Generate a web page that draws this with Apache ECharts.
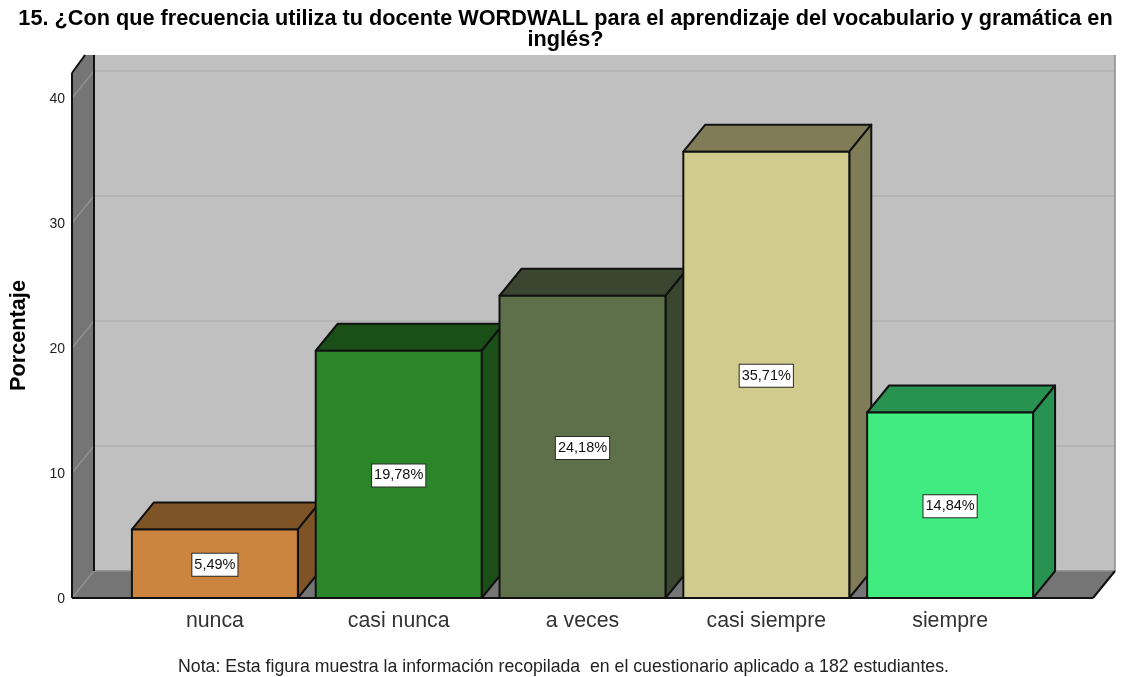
<!DOCTYPE html>
<html>
<head>
<meta charset="utf-8">
<style>html,body{margin:0;padding:0;background:#fff}#c{width:1122px;height:677px}</style>
<script src="https://cdn.jsdelivr.net/npm/echarts@6/dist/echarts.min.js"></script>
</head>
<body>
<div id="c"></div>
<script>
const categories = ['nunca', 'casi nunca', 'a veces', 'casi siempre', 'siempre'];
const values = [5.49, 19.78, 24.18, 35.71, 14.84];
const valueLabels = ['5,49%', '19,78%', '24,18%', '35,71%', '14,84%'];
const yTicks = [0, 10, 20, 30, 40];
const faceColors = ['#CC853E', '#2A8628', '#5E7049', '#D1CB8E', '#40EC7F'];
const shadeColors = ['#7E5427', '#1A5018', '#3B4630', '#807C58', '#289250'];
const titleText = '15. ¿Con que frecuencia utiliza tu docente WORDWALL para el aprendizaje del vocabulario y gramática en\ninglés?';
const noteText = 'Nota: Esta figura muestra la información recopilada  en el cuestionario aplicado a 182 estudiantes.';
const yName = 'Porcentaje';

const DX = 22, DY = -27, PAD = 51, FONT = '"Liberation Sans", Arial, sans-serif';
const EDGE = '#111';

function poly(points, fill, stroke, lw) {
  return { type: 'polygon', shape: { points }, style: { fill, stroke: stroke || 'none', lineWidth: lw || 0, lineJoin: 'round' } };
}
function line(x1, y1, x2, y2, stroke, lw) {
  return { type: 'line', shape: { x1, y1, x2, y2 }, style: { stroke, lineWidth: lw, fill: 'none' } };
}

function renderRoom(params, api) {
  const cs = params.coordSys;
  const xL = cs.x - PAD, xR = cs.x + cs.width + PAD;
  const yB = cs.y + cs.height, yT = cs.y;
  const topClip = yT - 18;
  const backB = yB + DY;
  const clipDx = 13;
  const kids = [
    poly([[xL + DX, topClip], [xR + DX, topClip], [xR + DX, backB], [xL + DX, backB]], '#C0C0C0'),
    poly([[xL, yT], [xL + clipDx, topClip], [xL + DX, topClip], [xL + DX, backB], [xL, yB]], '#757575'),
    poly([[xL, yB], [xL + DX, backB], [xR + DX, backB], [xR, yB]], '#757575')
  ];
  yTicks.forEach(v => {
    const y = api.coord([0, v])[1];
    if (v > 0) kids.push(line(xL + DX, y + DY, xR + DX, y + DY, '#B0B0B0', 1.5));
    kids.push(line(xL, y, xL + DX, y + DY, '#939393', 1.2));
  });
  kids.push(line(xL + DX, backB, xR + DX, backB, '#8C8C8C', 1.5));
  kids.push(line(xR + DX, topClip, xR + DX, backB, '#8C8C8C', 1.5));
  kids.push(line(xL, yT, xL, yB, EDGE, 2));
  kids.push(line(xL, yT, xL + clipDx, topClip, EDGE, 2));
  kids.push(line(xL + DX, topClip, xL + DX, backB, EDGE, 2));
  kids.push(line(xL, yB, xR, yB, EDGE, 2));
  kids.push(line(xR, yB, xR + DX, backB, EDGE, 2));
  return { type: 'group', children: kids };
}

function renderBar(params, api) {
  const i = api.value(0), v = api.value(1);
  const c = api.coord([i, v]), base = api.coord([i, 0]);
  const w = api.size([1, 0])[0] * 0.903;
  const xa = c[0] - w / 2, xb = c[0] + w / 2, yt = c[1], yb = base[1];
  const midY = (yt + yb) / 2 + 1;
  return {
    type: 'group',
    children: [
      poly([[xa, yt], [xa + DX, yt + DY], [xb + DX, yt + DY], [xb, yt]], shadeColors[i], EDGE, 2),
      poly([[xb, yt], [xb + DX, yt + DY], [xb + DX, yb + DY], [xb, yb]], shadeColors[i], EDGE, 2),
      poly([[xa, yt], [xb, yt], [xb, yb], [xa, yb]], faceColors[i], EDGE, 2),
      {
        type: 'text', x: c[0], y: midY,
        style: {
          text: valueLabels[i], x: 0, y: 0, align: 'center', verticalAlign: 'middle',
          font: '14.5px ' + FONT, fill: '#111',
          backgroundColor: '#fff', borderColor: '#2a2a2a', borderWidth: 1, padding: [4, 2, 3, 2]
        }
      }
    ]
  };
}

const chart = echarts.init(document.getElementById('c'), null, { renderer: 'canvas' });
chart.setOption({
  animation: false,
  backgroundColor: '#fff',
  title: [
    { text: titleText, left: 560.5, top: 4, textAlign: 'center',
      textStyle: { fontFamily: FONT, fontSize: 21.7, fontWeight: 'bold', color: '#000', lineHeight: 21 } },
    { text: noteText, left: 558.5, top: 653, textAlign: 'center',
      textStyle: { fontFamily: FONT, fontSize: 17.7, fontWeight: 'normal', color: '#222' } }
  ],
  grid: { left: 123, top: 73, width: 919, height: 525, containLabel: false, outerBoundsMode: 'none' },
  xAxis: {
    type: 'category', data: categories,
    axisLine: { show: false }, axisTick: { show: false },
    axisLabel: { interval: 0, margin: 13, fontFamily: FONT, fontSize: 21.3, color: '#333' }
  },
  yAxis: {
    type: 'value', min: 0, max: 42, interval: 10, offset: PAD,
    name: yName, nameLocation: 'middle', nameGap: 42, nameRotate: 90,
    nameTextStyle: { fontFamily: FONT, fontSize: 21.7, fontWeight: 'bold', color: '#000' },
    axisLine: { show: false },
    axisTick: { show: false },
    splitLine: { show: false },
    axisLabel: { margin: 7, fontFamily: FONT, fontSize: 14, color: '#222', showMaxLabel: false,
      formatter: '{t|{value}}',
      rich: { t: { fontFamily: FONT, fontSize: 14, color: '#222', padding: [3, 0, 0, 0] } } }
  },
  series: [
    { type: 'custom', silent: true, z: 1, data: [[0, 0]], renderItem: renderRoom, clip: false,
      encode: { x: 0, y: 1 } },
    { type: 'custom', silent: true, z: 2, clip: false, renderItem: renderBar,
      data: values.map((v, i) => [i, v]), encode: { x: 0, y: 1 } }
  ]
});
</script>
</body>
</html>
